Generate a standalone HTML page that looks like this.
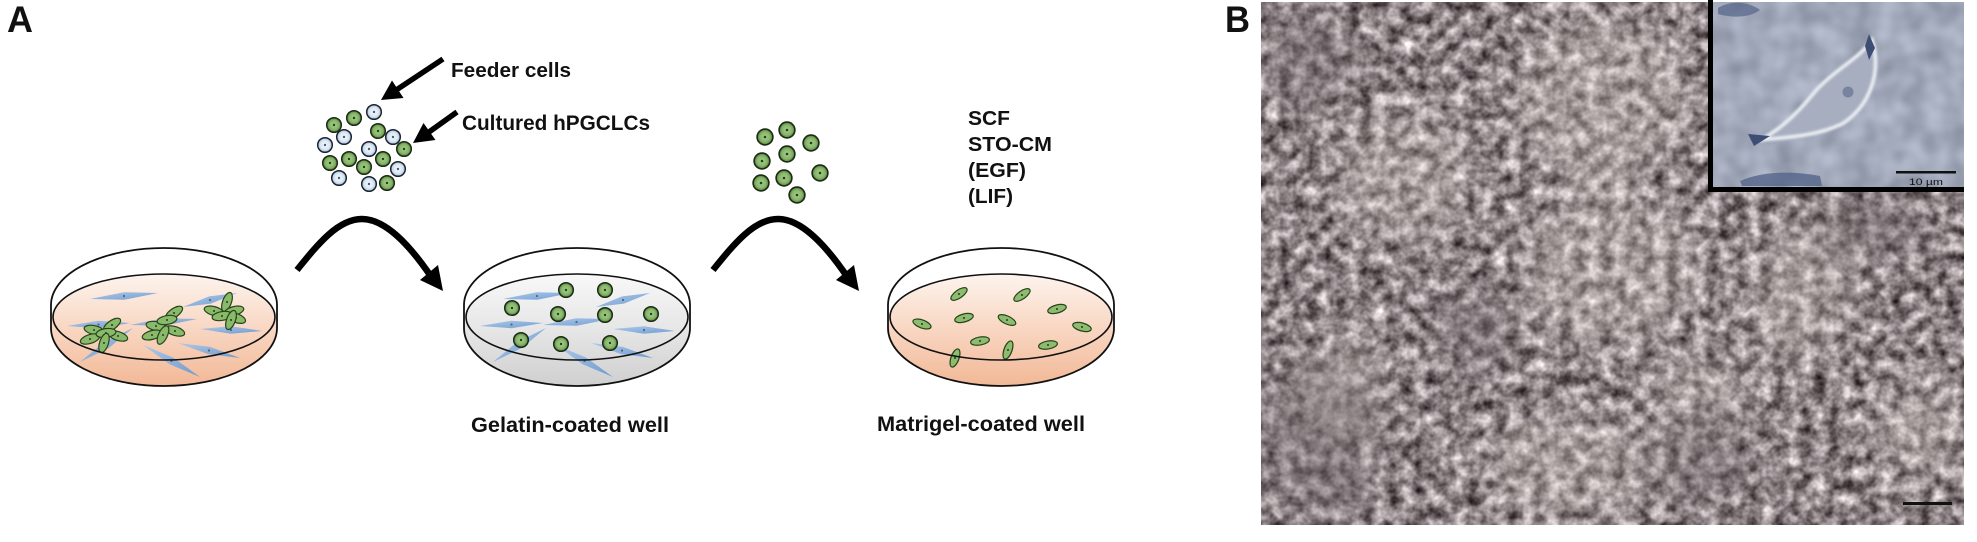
<!DOCTYPE html>
<html>
<head>
<meta charset="utf-8">
<style>
  html,body{margin:0;padding:0;background:#fff;}
  body{width:1977px;height:542px;overflow:hidden;}
  svg{display:block;}
  text{font-family:"Liberation Sans",Arial,sans-serif;font-weight:bold;fill:#111;}
</style>
</head>
<body>
<svg width="1977" height="542" viewBox="0 0 1977 542" xmlns="http://www.w3.org/2000/svg">
  <defs>
    <radialGradient id="gG" cx="50%" cy="50%" r="50%">
      <stop offset="0" stop-color="#a6cf88"/>
      <stop offset="0.65" stop-color="#86b56a"/>
      <stop offset="1" stop-color="#4f7d3a"/>
    </radialGradient>
    <radialGradient id="gB" cx="50%" cy="50%" r="50%">
      <stop offset="0" stop-color="#f6f9fd"/>
      <stop offset="0.6" stop-color="#dce8f4"/>
      <stop offset="1" stop-color="#a9c0da"/>
    </radialGradient>
    <linearGradient id="peach" x1="0" y1="0" x2="0" y2="1">
      <stop offset="0" stop-color="#fdf4ee"/>
      <stop offset="0.45" stop-color="#f9d9c6"/>
      <stop offset="1" stop-color="#f2b896"/>
    </linearGradient>
    <linearGradient id="gray" x1="0" y1="0" x2="0" y2="1">
      <stop offset="0" stop-color="#f8f8f8"/>
      <stop offset="0.5" stop-color="#e6e6e6"/>
      <stop offset="1" stop-color="#cfcfcf"/>
    </linearGradient>
    <linearGradient id="spin" x1="0" y1="0" x2="1" y2="1">
      <stop offset="0" stop-color="#a9c8ea"/>
      <stop offset="1" stop-color="#6797cf"/>
    </linearGradient>

    <g id="gc"><circle r="7.3" fill="url(#gG)" stroke="#1d2a16" stroke-width="1.5"/><circle r="1.2" fill="#2b3a22"/></g>
    <g id="bc"><circle r="7.3" fill="url(#gB)" stroke="#1b2431" stroke-width="1.5"/><circle r="1.2" fill="#4c5c74"/></g>
    <g id="ge"><ellipse rx="10" ry="4.4" fill="#88ba6a" stroke="#27441b" stroke-width="1.2"/><circle r="1" fill="#2e3b26"/></g>
    <g id="ge2"><ellipse rx="9.5" ry="4" fill="#8cbd6e" stroke="#27441b" stroke-width="1.2"/><circle r="1" fill="#2e3b26"/></g>

    <g id="spindles" fill="url(#spin)" opacity="0.92">
      <polygon points="90,299 124.3,299.8 158,293 123.7,292.2"/>
      <polygon points="183,307 210.9,303.6 237,293 209.1,296.4"/>
      <polygon points="67,326 98.7,328.2 130,323 98.3,320.8"/>
      <polygon points="130,325 163.8,325.7 197,319 163.2,318.3"/>
      <polygon points="200,329 230.9,333.7 262,331 231.1,326.3"/>
      <polygon points="80,362 108.6,348.1 133,328 104.4,341.9"/>
      <polygon points="143,345 169.6,364.2 200,377 173.4,357.8"/>
      <polygon points="178,343 208.1,354.1 240,358 209.9,346.9"/>
      <g fill="#4a5a6e">
        <circle cx="124" cy="296" r="1.1"/><circle cx="210" cy="300" r="1.1"/>
        <circle cx="98.5" cy="324.5" r="1.1"/><circle cx="163.5" cy="322" r="1.1"/>
        <circle cx="231" cy="330" r="1.1"/><circle cx="106.5" cy="345" r="1.1"/>
        <circle cx="171.5" cy="361" r="1.1"/><circle cx="209" cy="350.5" r="1.1"/>
      </g>
    </g>

    <filter id="tex" x="1261" y="2" width="703" height="523" filterUnits="userSpaceOnUse" color-interpolation-filters="sRGB">
      <feTurbulence type="fractalNoise" baseFrequency="0.075" numOctaves="3" seed="11" result="n"/>
      <feColorMatrix in="n" type="matrix" values="1.15 0 0 0 -0.02  1.15 0 0 0 -0.06  1.15 0 0 0 -0.05  0 0 0 0 1"/>
    </filter>
    <filter id="tex2" x="1713" y="2" width="251" height="185" filterUnits="userSpaceOnUse" color-interpolation-filters="sRGB">
      <feTurbulence type="fractalNoise" baseFrequency="0.04" numOctaves="2" seed="3" result="n"/>
      <feColorMatrix in="n" type="matrix" values="0.4 0 0 0 0.43  0.4 0 0 0 0.46  0.4 0 0 0 0.53  0 0 0 0 1"/>
    </filter>
    <filter id="blur" x="1261" y="2" width="703" height="523" filterUnits="userSpaceOnUse" color-interpolation-filters="sRGB">
      <feGaussianBlur stdDeviation="18"/>
    </filter>
    <filter id="blur2" color-interpolation-filters="sRGB"><feGaussianBlur stdDeviation="1.2"/></filter>
    <clipPath id="photoClip"><rect x="1261" y="2" width="703" height="523"/></clipPath>
  </defs>

  <rect width="1977" height="542" fill="#fff"/>

  <!-- Labels A / B -->
  <text x="7" y="32" font-size="37" textLength="26" lengthAdjust="spacingAndGlyphs">A</text>
  <text x="1225" y="32" font-size="37" textLength="25" lengthAdjust="spacingAndGlyphs">B</text>

  <!-- Feeder / hPGCLC labels & arrows -->
  <text x="451" y="77" font-size="20" textLength="120" lengthAdjust="spacingAndGlyphs">Feeder cells</text>
  <text x="462" y="130" font-size="21" textLength="188" lengthAdjust="spacingAndGlyphs">Cultured hPGCLCs</text>
  <line x1="443" y1="59" x2="397" y2="89.5" stroke="#000" stroke-width="5.5"/>
  <polygon points="381,100 403.5,98 392,80.5" fill="#000"/>
  <line x1="457" y1="112" x2="429" y2="132" stroke="#000" stroke-width="5.5"/>
  <polygon points="413,143 435.5,140 423.5,123" fill="#000"/>

  <!-- mixed cell cluster -->
  <use href="#bc" x="374" y="112"/>
  <use href="#gc" x="354" y="118"/>
  <use href="#gc" x="334" y="125"/>
  <use href="#bc" x="344" y="137"/>
  <use href="#gc" x="378" y="131"/>
  <use href="#bc" x="393" y="137"/>
  <use href="#bc" x="325" y="145"/>
  <use href="#gc" x="404" y="149"/>
  <use href="#bc" x="369" y="149"/>
  <use href="#gc" x="349" y="159"/>
  <use href="#gc" x="383" y="159"/>
  <use href="#gc" x="330" y="163"/>
  <use href="#gc" x="364" y="167"/>
  <use href="#bc" x="398" y="169"/>
  <use href="#bc" x="339" y="178"/>
  <use href="#bc" x="369" y="184"/>
  <use href="#gc" x="387" y="183"/>

  <!-- curved arrows -->
  <g id="carrow">
    <path d="M297,270 C318,244 338,219 362,219 C386,219 410,246 430,275" fill="none" stroke="#000" stroke-width="6.5"/>
    <polygon points="443,291 420,280 438,265" fill="#000"/>
  </g>
  <use href="#carrow" x="416" y="0"/>

  <!-- DISH 1 -->
  <g>
    <path d="M53,317 A111,43 0 0 1 275,317 L277,328 A113,58 0 0 1 51,328 Z" fill="url(#peach)"/>
    <use href="#spindles"/>
    <g>
      <use href="#ge" transform="translate(94,330) rotate(12)"/>
      <use href="#ge" transform="translate(112,325) rotate(-35)"/>
      <use href="#ge" transform="translate(118,336) rotate(18)"/>
      <use href="#ge" transform="translate(90,339) rotate(-18)"/>
      <use href="#ge" transform="translate(106,333) rotate(-8)"/>
      <use href="#ge" transform="translate(104,343) rotate(-72)"/>
    </g>
    <g>
      <use href="#ge" transform="translate(156,326) rotate(10)"/>
      <use href="#ge" transform="translate(174,313) rotate(-35)"/>
      <use href="#ge" transform="translate(167,320) rotate(-10)"/>
      <use href="#ge" transform="translate(175,331) rotate(18)"/>
      <use href="#ge" transform="translate(152,335) rotate(-15)"/>
      <use href="#ge" transform="translate(163,335) rotate(-65)"/>
    </g>
    <g>
      <use href="#ge" transform="translate(214,311) rotate(15)"/>
      <use href="#ge" transform="translate(227,302) rotate(-70)"/>
      <use href="#ge" transform="translate(234,311) rotate(-15)"/>
      <use href="#ge" transform="translate(236,318) rotate(20)"/>
      <use href="#ge" transform="translate(222,316) rotate(-10)"/>
      <use href="#ge" transform="translate(231,320) rotate(-70)"/>
    </g>
    <path d="M53,317 A111,43 0 0 1 275,317 A111,43 0 0 1 53,317 Z" fill="none" stroke="#111" stroke-width="1.6"/>
    <path d="M51,305 A113,57 0 0 1 277,305 L277,328 A113,58 0 0 1 51,328 Z" fill="none" stroke="#111" stroke-width="1.8"/>
  </g>

  <!-- DISH 2 -->
  <g transform="translate(413,0)">
    <path d="M53,317 A111,43 0 0 1 275,317 L277,328 A113,58 0 0 1 51,328 Z" fill="url(#gray)"/>
    <use href="#spindles"/>
    <path d="M53,317 A111,43 0 0 1 275,317 A111,43 0 0 1 53,317 Z" fill="none" stroke="#111" stroke-width="1.6"/>
    <path d="M51,305 A113,57 0 0 1 277,305 L277,328 A113,58 0 0 1 51,328 Z" fill="none" stroke="#111" stroke-width="1.8"/>
  </g>
  <use href="#gc" x="566" y="290"/>
  <use href="#gc" x="605" y="290"/>
  <use href="#gc" x="512" y="308"/>
  <use href="#gc" x="558" y="314"/>
  <use href="#gc" x="605" y="315"/>
  <use href="#gc" x="651" y="314"/>
  <use href="#gc" x="521" y="340"/>
  <use href="#gc" x="561" y="344"/>
  <use href="#gc" x="610" y="343"/>

  <text x="471" y="432" font-size="21" textLength="198" lengthAdjust="spacingAndGlyphs">Gelatin-coated well</text>

  <!-- green cell cluster 2 -->
  <g>
    <use href="#gc" transform="translate(765,137) scale(1.08)"/>
    <use href="#gc" transform="translate(787,130) scale(1.08)"/>
    <use href="#gc" transform="translate(811,143) scale(1.08)"/>
    <use href="#gc" transform="translate(762,161) scale(1.08)"/>
    <use href="#gc" transform="translate(787,154) scale(1.08)"/>
    <use href="#gc" transform="translate(820,173) scale(1.08)"/>
    <use href="#gc" transform="translate(761,183) scale(1.08)"/>
    <use href="#gc" transform="translate(784,178) scale(1.08)"/>
    <use href="#gc" transform="translate(797,195) scale(1.08)"/>
  </g>

  <!-- factors -->
  <text x="968" y="125" font-size="20" textLength="42" lengthAdjust="spacingAndGlyphs">SCF</text>
  <text x="968" y="151" font-size="20" textLength="84" lengthAdjust="spacingAndGlyphs">STO-CM</text>
  <text x="968" y="177" font-size="20" textLength="58" lengthAdjust="spacingAndGlyphs">(EGF)</text>
  <text x="968" y="203" font-size="20" textLength="45" lengthAdjust="spacingAndGlyphs">(LIF)</text>

  <!-- DISH 3 -->
  <g transform="translate(837,0)">
    <path d="M53,317 A111,43 0 0 1 275,317 L277,328 A113,58 0 0 1 51,328 Z" fill="url(#peach)"/>
  </g>
  <use href="#ge2" transform="translate(959,294) rotate(-35)"/>
  <use href="#ge2" transform="translate(1022,295) rotate(-35)"/>
  <use href="#ge2" transform="translate(1057,309) rotate(-15)"/>
  <use href="#ge2" transform="translate(964,318) rotate(-15)"/>
  <use href="#ge2" transform="translate(1007,320) rotate(25)"/>
  <use href="#ge2" transform="translate(922,324) rotate(20)"/>
  <use href="#ge2" transform="translate(1082,327) rotate(15)"/>
  <use href="#ge2" transform="translate(980,341) rotate(-10)"/>
  <use href="#ge2" transform="translate(1048,345) rotate(-10)"/>
  <use href="#ge2" transform="translate(1008,350) rotate(-70)"/>
  <use href="#ge2" transform="translate(955,358) rotate(-70)"/>
  <g transform="translate(837,0)">
    <path d="M53,317 A111,43 0 0 1 275,317 A111,43 0 0 1 53,317 Z" fill="none" stroke="#111" stroke-width="1.6"/>
    <path d="M51,305 A113,57 0 0 1 277,305 L277,328 A113,58 0 0 1 51,328 Z" fill="none" stroke="#111" stroke-width="1.8"/>
  </g>

  <text x="877" y="431" font-size="21" textLength="208" lengthAdjust="spacingAndGlyphs">Matrigel-coated well</text>

  <!-- PANEL B photo -->
  <g clip-path="url(#photoClip)">
    <rect x="1261" y="2" width="703" height="523" fill="#8d8385"/>
    <rect x="1261" y="2" width="703" height="523" filter="url(#tex)"/>
    <g filter="url(#blur)" fill="#e4d8d0" opacity="0.3">
      <ellipse cx="1600" cy="100" rx="90" ry="90"/>
      <ellipse cx="1610" cy="270" rx="95" ry="80"/>
      <ellipse cx="1405" cy="175" rx="70" ry="70"/>
      <ellipse cx="1800" cy="295" rx="55" ry="70"/>
      <ellipse cx="1570" cy="465" rx="90" ry="55"/>
      <ellipse cx="1920" cy="430" rx="45" ry="55"/>
      <ellipse cx="1700" cy="390" rx="50" ry="40"/>
      <ellipse cx="1350" cy="380" rx="40" ry="50"/>
    </g>
    <g filter="url(#blur)" fill="#7a7073" opacity="0.45">
      <ellipse cx="1310" cy="60" rx="50" ry="50"/>
      <ellipse cx="1320" cy="440" rx="60" ry="80"/>
      <ellipse cx="1700" cy="460" rx="50" ry="40"/>
      <ellipse cx="1870" cy="230" rx="60" ry="30"/>
      <ellipse cx="1480" cy="330" rx="40" ry="40"/>
    </g>
  </g>
  <!-- main scale bar -->
  <rect x="1903" y="502" width="49" height="3" fill="#111"/>

  <!-- inset -->
  <rect x="1713" y="2" width="251" height="185" fill="#a3aaba"/>
  <rect x="1713" y="2" width="251" height="185" filter="url(#tex2)" opacity="0.7"/>
  <g>
    <path d="M1718,8 C1730,0 1750,2 1760,10 C1750,18 1732,18 1718,14 Z" fill="#55648a" opacity="0.7"/>
    <path d="M1740,181 C1760,172 1790,170 1820,176 L1822,186 L1742,186 Z" fill="#4f6086" opacity="0.75"/>
    <path d="M1872,40 C1882,72 1870,106 1842,124 C1816,136 1790,137 1760,140 C1783,128 1798,112 1813,94 C1833,70 1858,60 1872,40 Z" fill="#a7aec0" stroke="#eef1f5" stroke-width="3.5" filter="url(#blur2)"/>
    <circle cx="1848" cy="92" r="5.5" fill="#77839f"/>
    <path d="M1869,34 L1875,48 L1869,60 L1865,46 Z" fill="#3e4d74"/>
    <path d="M1748,134 L1770,136 L1754,146 Z" fill="#3e4d74"/>
  </g>
  <rect x="1708" y="0" width="5" height="192" fill="#000"/>
  <rect x="1708" y="187" width="256" height="5" fill="#000"/>
  <rect x="1896" y="171" width="60" height="2.5" fill="#111"/>
  <text x="1909" y="185" font-size="9" textLength="34" lengthAdjust="spacingAndGlyphs" style="font-weight:normal">10 µm</text>
</svg>
</body>
</html>
